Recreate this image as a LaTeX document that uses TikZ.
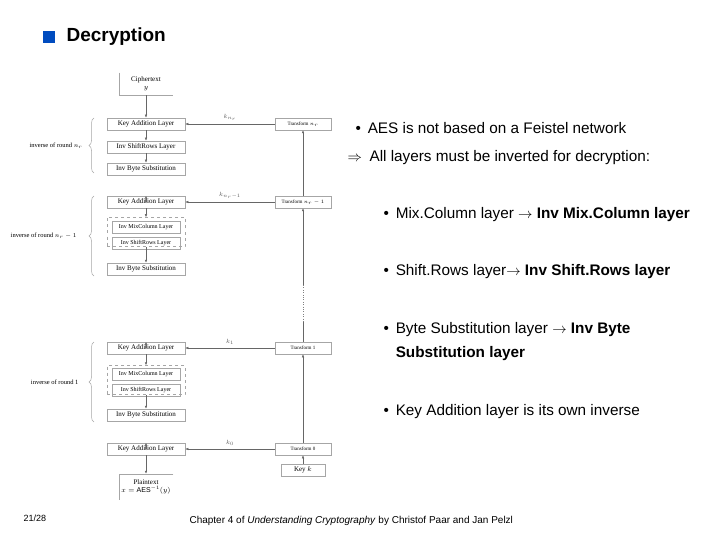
\documentclass[tikz,border=0pt]{standalone}
\usepackage{fontspec}
\setmainfont{Liberation Sans}
\newfontfamily\serifd{Liberation Serif}
\usetikzlibrary{decorations.pathreplacing,arrows.meta}
\begin{document}
\begin{tikzpicture}[x=1pt,y=-1pt,
 lay/.style={draw=gray!70,line width=0.5pt,minimum width=78pt,minimum height=12pt,inner sep=0pt,font=\serifd\fontsize{7}{8}\selectfont},
 sl/.style={lay,minimum width=68pt,font=\serifd\fontsize{6}{7}\selectfont},
 tr/.style={lay,minimum width=56pt,font=\serifd\fontsize{5}{6}\selectfont},
 ar/.style={-{Latex[length=3pt,width=2.5pt]},line width=0.5pt,draw=gray!80!black},
 kl/.style={font=\serifd\fontsize{6.5}{7}\selectfont,text=gray!70!black},
 bt/.style={font=\fontsize{15.3}{20}\selectfont,anchor=west},
 br/.style={decorate,decoration={brace,amplitude=5pt},draw=gray!70,line width=0.5pt},
 bl/.style={font=\serifd\fontsize{6.5}{7}\selectfont,anchor=east}]
\useasboundingbox (0,0) rectangle (720,540);
\fill[blue!60!cyan!75!black] (43,31) rectangle (55,43);
\node[anchor=west,font=\bfseries\fontsize{19}{22}\selectfont] (title) at (63,37) {Decryption};
% left diagram
\node[lay,minimum width=54pt,minimum height=22pt,align=center,draw=none] (ct) at (146,84) {Ciphertext\\$y$};
\draw[gray!70,line width=0.4pt] (ct.north west) -- (ct.south west) -- (ct.south east);
\node[lay] (ka1) at (146,124) {Key Addition Layer};
\node[lay] (sr1) at (146,147) {Inv ShiftRows Layer};
\node[lay] (bs1) at (146,169) {Inv Byte Substitution};
\node[lay] (ka2) at (146,202) {Key Addition Layer};
\node[lay,dashed,minimum height=29pt] (d2) at (146,232) {};
\node[sl] (mc2) at (146,227) {Inv MixColumn Layer};
\node[sl] (sr2) at (146,243) {Inv ShiftRows Layer};
\node[lay] (bs2) at (146,269) {Inv Byte Substitution};
\node[lay] (ka3) at (146,348) {Key Addition Layer};
\node[lay,dashed,minimum height=29pt] (d3) at (146,380) {};
\node[sl] (mc3) at (146,374) {Inv MixColumn Layer};
\node[sl] (sr3) at (146,390) {Inv ShiftRows Layer};
\node[lay] (bs3) at (146,415) {Inv Byte Substitution};
\node[lay] (ka4) at (146,449) {Key Addition Layer};
\node[lay,minimum width=54pt,minimum height=26pt,align=center,draw=none] (pt) at (146,487) {Plaintext\\$x=\mathrm{AES}^{-1}(y)$};
\draw[gray!70,line width=0.4pt] (pt.north east) -- (pt.north west) -- (pt.south west);
\foreach \a/\b in {ct/ka1,ka1/sr1,sr1/bs1,ka2/d2,d2/bs2,ka3/d3,d3/bs3,ka4/pt}
  \draw[ar] (\a.south) -- (\b.north);
\foreach \b in {ka2,ka3,ka4}
  \draw[ar] ([yshift=-6pt]\b.north) -- (\b.north);
% transforms
\node[tr] (T1) at (303,124) {Transform $n_r$};
\node[tr] (T2) at (303,202) {Transform $n_r-1$};
\node[tr] (T3) at (303,348) {Transform 1};
\node[tr] (T4) at (303,449) {Transform 0};
\node[tr,minimum width=44pt,font=\serifd\fontsize{7}{8}\selectfont] (K) at (303,470) {Key $k$};
\draw[ar] (T1) -- node[kl,above] {$k_{n_r}$} (ka1);
\draw[ar] (T2) -- node[kl,above] {$k_{n_r-1}$} (ka2);
\draw[ar] (T3) -- node[kl,above] {$k_1$} (ka3);
\draw[ar] (T4) -- node[kl,above] {$k_0$} (ka4);
\draw[ar] (K) -- (T4);
\draw[ar] (T4) -- (T3);
\draw[ar] (T2) -- (T1);
\coordinate (m1) at (303,285); \coordinate (m2) at (303,322);
\draw[ar] (m1) -- (T2);
\draw[gray,line width=0.4pt,dotted] (m1) -- (m2);
\draw[gray!80!black,line width=0.5pt] (m2) -- (T3);
% braces
\draw[br] (94,173) -- (94,118);
\node[bl] (l1) at (86,146) {inverse of round $n_r$};
\draw[br] (94,276) -- (94,196);
\node[bl] (l2) at (80,236) {inverse of round $n_r-1$};
\draw[br] (94,422) -- (94,342);
\node[bl] (l3) at (82,382) {inverse of round 1};
% text
\node[bt] (b0) at (352,128) {\textbullet\hspace{0.45em}AES is not based on a Feistel network};
\node[bt] (b1) at (344,158) {$\Rightarrow$\hspace{0.5em}All layers must be inverted for decryption:};
\node[bt] (b2) at (380,215) {\textbullet\hspace{0.45em}Mix.Column layer $\rightarrow$ \textbf{Inv Mix.Column layer}};
\node[bt] (b3) at (380,272) {\textbullet\hspace{0.45em}Shift.Rows layer$\rightarrow$ \textbf{Inv Shift.Rows layer}};
\node[bt,align=left,font=\fontsize{15.3}{24}\selectfont] (b4) at (380,342) {\textbullet\hspace{0.45em}Byte Substitution layer $\rightarrow$ \textbf{Inv Byte}\\\hspace{0.8em}\textbf{Substitution layer}};
\node[bt] (b5) at (380,412) {\textbullet\hspace{0.45em}Key Addition layer is its own inverse};
\node[anchor=west,font=\fontsize{9}{10}\selectfont] (pg) at (20,518) {21/28};
\node[anchor=west,font=\fontsize{10}{12}\selectfont] (ft) at (186,521) {Chapter 4 of \textit{Understanding Cryptography} by Christof Paar and Jan Pelzl};
\end{tikzpicture}
\end{document}
